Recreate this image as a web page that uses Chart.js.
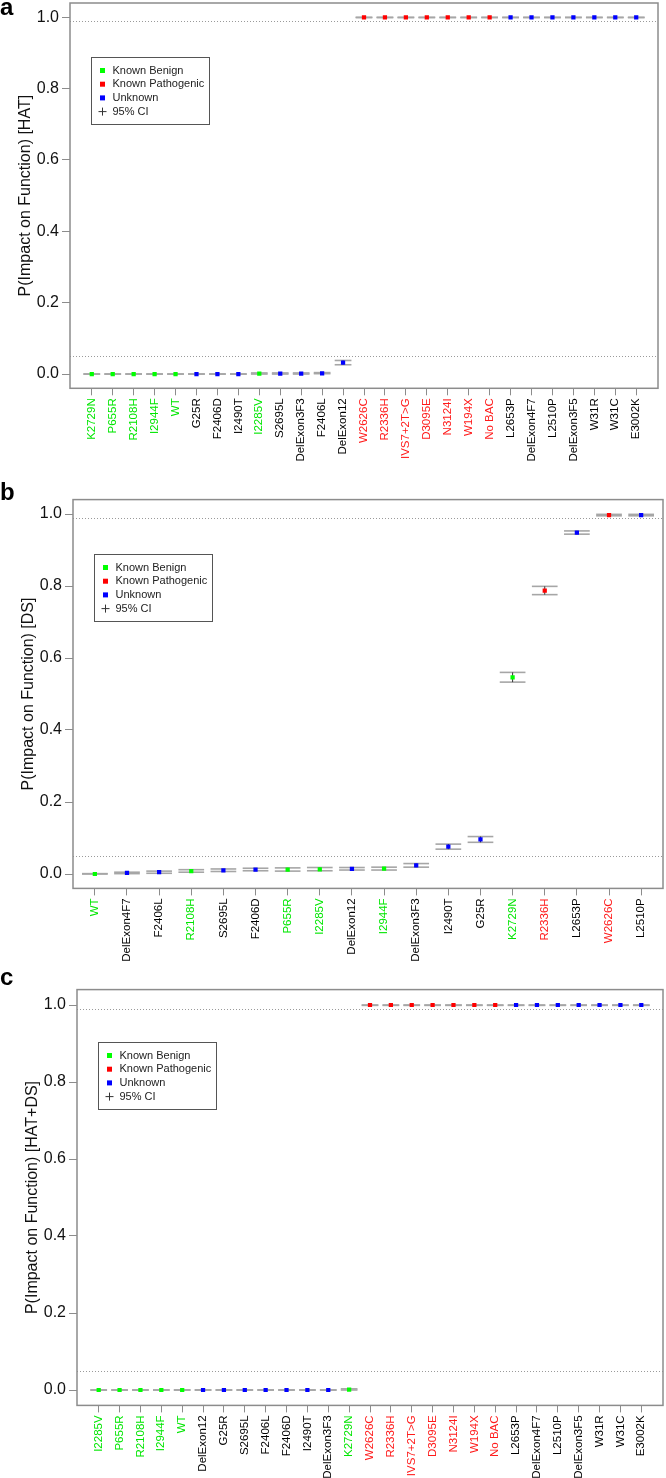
<!DOCTYPE html>
<html>
<head>
<meta charset="utf-8">
<title>P(Impact on Function)</title>
<script src="https://cdn.jsdelivr.net/npm/chart.js@4.4.1/dist/chart.umd.min.js"></script>
<style>
  html, body { margin: 0; padding: 0; background: #fff; }
  #page { position: relative; width: 666px; height: 1478px; overflow: hidden; }
  canvas { position: absolute; left: 0; }
</style>
</head>
<body>
<div id="page">
  <canvas id="chartA" width="666" height="470" style="top:0"></canvas>
  <canvas id="chartB" width="666" height="495" style="top:470px"></canvas>
  <canvas id="chartC" width="666" height="513" style="top:965px"></canvas>
</div>
<script>
// Variant impact panels: HAT, DS and HAT+DS

// Shared axis values
const yTickValues = [0, 0.2, 0.4, 0.6, 0.8, 1.0];
const cutoffLines = [0.99, 0.05];
const legendLabels = ['Known Benign', 'Known Pathogenic', 'Unknown'];
const legendGroups = ['B', 'P', 'U'];

// Panel a: HAT
const aLabels = ['K2729N', 'P655R', 'R2108H', 'I2944F', 'WT', 'G25R', 'F2406D', 'I2490T', 'I2285V', 'S2695L', 'DelExon3F3', 'F2406L', 'DelExon12',
    'W2626C', 'R2336H', 'IVS7+2T>G', 'D3095E', 'N3124I', 'W194X', 'No BAC', 'L2653P', 'DelExon4F7', 'L2510P', 'DelExon3F5', 'W31R', 'W31C', 'E3002K'];
const aGroups = ['B', 'B', 'B', 'B', 'B', 'U', 'U', 'U', 'B', 'U', 'U', 'U', 'U',
    'P', 'P', 'P', 'P', 'P', 'P', 'P', 'U', 'U', 'U', 'U', 'U', 'U', 'U'];
const aValues = [0, 0, 0, 0, 0, 0, 0, 0, 0.001, 0.001, 0.001, 0.002, 0.032,
    1, 1, 1, 1, 1, 1, 1, 1, 1, 1, 1, 1, 1, 1];
const aLow = [0, 0, 0, 0, 0, 0, 0, 0, 0, 0, 0, 0.001, 0.026,
    0.999, 0.999, 0.999, 0.999, 0.999, 0.999, 0.999, 0.999, 0.999, 0.999, 0.999, 0.999, 0.999, 0.999];
const aHigh = [0, 0, 0, 0, 0, 0, 0, 0, 0.003, 0.003, 0.003, 0.004, 0.038,
    1, 1, 1, 1, 1, 1, 1, 1, 1, 1, 1, 1, 1, 1];

// Panel b: DS
const bLabels = ['WT', 'DelExon4F7', 'F2406L', 'R2108H', 'S2695L', 'F2406D', 'P655R', 'I2285V', 'DelExon12',
    'I2944F', 'DelExon3F3', 'I2490T', 'G25R', 'K2729N', 'R2336H', 'L2653P', 'W2626C', 'L2510P'];
const bGroups = ['B', 'U', 'U', 'B', 'U', 'U', 'B', 'B', 'U', 'B', 'U', 'U', 'U', 'B', 'P', 'U', 'P', 'U'];
const bValues = [0.000, 0.003, 0.005, 0.008, 0.010, 0.012, 0.012, 0.013, 0.014, 0.015, 0.024, 0.076, 0.096, 0.546, 0.787, 0.948, 0.997, 0.997];
const bLow = [0.000, 0.001, 0.002, 0.005, 0.007, 0.009, 0.008, 0.009, 0.011, 0.011, 0.019, 0.069, 0.088, 0.533, 0.776, 0.944, 0.995, 0.995];
const bHigh = [0.001, 0.005, 0.008, 0.012, 0.014, 0.016, 0.017, 0.018, 0.018, 0.019, 0.029, 0.083, 0.104, 0.560, 0.799, 0.953, 0.999, 0.999];

// Panel c: HAT+DS
const cLabels = ['I2285V', 'P655R', 'R2108H', 'I2944F', 'WT', 'DelExon12', 'G25R', 'S2695L', 'F2406L', 'F2406D', 'I2490T', 'DelExon3F3', 'K2729N',
    'W2626C', 'R2336H', 'IVS7+2T>G', 'D3095E', 'N3124I', 'W194X', 'No BAC', 'L2653P', 'DelExon4F7', 'L2510P', 'DelExon3F5', 'W31R', 'W31C', 'E3002K'];
const cGroups = ['B', 'B', 'B', 'B', 'B', 'U', 'U', 'U', 'U', 'U', 'U', 'U', 'B',
    'P', 'P', 'P', 'P', 'P', 'P', 'P', 'U', 'U', 'U', 'U', 'U', 'U', 'U'];
const cValues = [0, 0, 0, 0, 0, 0, 0, 0, 0, 0, 0, 0, 0.001,
    1, 1, 1, 1, 1, 1, 1, 1, 1, 1, 1, 1, 1, 1];
const cLow = [0, 0, 0, 0, 0, 0, 0, 0, 0, 0, 0, 0, 0,
    0.999, 0.999, 0.999, 0.999, 0.999, 0.999, 0.999, 0.999, 0.999, 0.999, 0.999, 0.999, 0.999, 0.999];
const cHigh = [0, 0, 0, 0, 0, 0, 0, 0, 0, 0, 0, 0, 0.003,
    1, 1, 1, 1, 1, 1, 1, 1, 1, 1, 1, 1, 1, 1];

// Styles
const fontFamily = '"Liberation Sans", Arial, Helvetica, sans-serif';
const dotColors = { B: '#00ff00', P: '#ff0000', U: '#0000ff' };
const labelColors = { B: '#00e600', P: '#ff1a1a', U: '#000000' };
const frameColor = '#8c8c8c';

// Extra drawing: cutoff lines, CI bars, frame, legend, panel letter
function makeDecor(p) {
    return {
        id: 'decor' + p.letter,
        beforeDatasetsDraw(chart) {
            const { ctx, chartArea: a, scales: { x, y } } = chart;
            ctx.save();
            ctx.strokeStyle = '#9a9a9a';
            ctx.lineWidth = 1;
            ctx.setLineDash([1, 2]);
            cutoffLines.forEach(v => {
                const py = Math.round(y.getPixelForValue(v)) + 0.5;
                ctx.beginPath();
                ctx.moveTo(a.left, py);
                ctx.lineTo(a.right, py);
                ctx.stroke();
            });
            ctx.setLineDash([]);

            p.low.forEach((lo, i) => {
                const px = x.getPixelForValue(i);
                const half = x.getPixelForValue(i + 0.4) - px;
                const yl = y.getPixelForValue(lo);
                const yh = y.getPixelForValue(p.high[i]);
                ctx.strokeStyle = '#a6a6a6';
                ctx.lineWidth = 1.6;
                [yl, yh].forEach(py => {
                    ctx.beginPath();
                    ctx.moveTo(px - half, py);
                    ctx.lineTo(px + half, py);
                    ctx.stroke();
                });
                ctx.strokeStyle = '#333';
                ctx.lineWidth = 1;
                ctx.beginPath();
                ctx.moveTo(px, yl);
                ctx.lineTo(px, yh);
                ctx.stroke();
            });
            ctx.restore();
        },
        afterDraw(chart) {
            const { ctx, chartArea: a } = chart;
            ctx.save();
            // frame
            ctx.strokeStyle = frameColor;
            ctx.lineWidth = 1.5;
            ctx.strokeRect(a.left, a.top, a.right - a.left, a.bottom - a.top);

            // legend
            const lx = Math.round(a.left + 21) + 0.5;
            const ly = Math.round(a.top + p.legendTop) + 0.5;
            ctx.strokeStyle = '#555';
            ctx.lineWidth = 1;
            ctx.strokeRect(lx, ly, 118, 67);
            ctx.font = '11px ' + fontFamily;
            ctx.textBaseline = 'middle';
            legendLabels.forEach((t, k) => {
                const ry = ly + 13 + k * 13.7;
                ctx.fillStyle = dotColors[legendGroups[k]];
                ctx.fillRect(lx + 8.5, ry - 2.5, 5, 5);
                ctx.fillStyle = '#222';
                ctx.fillText(t, lx + 21, ry);
            });
            const cy = ly + 13 + 3 * 13.7;
            ctx.strokeStyle = '#333';
            ctx.beginPath();
            ctx.moveTo(lx + 7, cy);
            ctx.lineTo(lx + 15, cy);
            ctx.moveTo(lx + 11, cy - 4);
            ctx.lineTo(lx + 11, cy + 4);
            ctx.stroke();
            ctx.fillStyle = '#222';
            ctx.fillText('95% CI', lx + 21, cy);

            // panel letter
            ctx.font = 'bold 24px ' + fontFamily;
            ctx.textBaseline = 'alphabetic';
            ctx.fillStyle = '#000';
            ctx.fillText(p.letter, 0, p.letterY);
            ctx.restore();
        }
    };
}

function createPanel(canvasId, p) {
    const canvas = document.getElementById(canvasId);
    if (!canvas) return;
    const n = p.labels.length;
    const ext = 0.04 * (n - 1);

    new Chart(canvas, {
        type: 'scatter',
        data: {
            datasets: [{
                data: p.values.map((v, i) => ({ x: i, y: v })),
                pointStyle: 'rect',
                pointRadius: 3,
                pointHoverRadius: 3,
                backgroundColor: p.groups.map(g => dotColors[g]),
                borderWidth: 0
            }]
        },
        options: {
            responsive: false,
            animation: false,
            layout: { padding: { top: p.top, right: canvas.width - p.right, bottom: 0, left: 0 } },
            plugins: {
                legend: { display: false },
                tooltip: { enabled: false }
            },
            scales: {
                x: {
                    type: 'linear',
                    min: -ext,
                    max: n - 1 + ext,
                    afterBuildTicks: s => { s.ticks = p.labels.map((_, i) => ({ value: i })); },
                    afterFit: s => { s.height = canvas.height - p.bottom; s.paddingLeft = 0; s.paddingRight = 0; },
                    ticks: {
                        autoSkip: false,
                        minRotation: 90,
                        maxRotation: 90,
                        padding: 3,
                        font: { size: 11.5, family: fontFamily },
                        color: c => labelColors[p.groups[c.index]],
                        callback: v => p.labels[v]
                    },
                    grid: { drawOnChartArea: false, tickLength: 7, color: frameColor },
                    border: { display: false }
                },
                y: {
                    type: 'linear',
                    min: -0.04,
                    max: 1.04,
                    afterBuildTicks: s => { s.ticks = yTickValues.map(v => ({ value: v })); },
                    afterFit: s => { s.width = p.left; s.paddingTop = 0; s.paddingBottom = 0; },
                    ticks: {
                        padding: 3,
                        font: { size: 16, family: fontFamily },
                        color: '#111',
                        callback: v => v.toFixed(1)
                    },
                    grid: { drawOnChartArea: false, tickLength: 8, color: frameColor },
                    border: { display: false },
                    title: {
                        display: true,
                        text: p.title,
                        color: '#111',
                        font: { size: 16, family: fontFamily },
                        padding: { top: p.left - 44 - 9.6, bottom: 0 }
                    }
                }
            }
        },
        plugins: [makeDecor(p)]
    });
}

document.addEventListener('DOMContentLoaded', () => {
    createPanel('chartA', {
        letter: 'a', letterY: 15, title: 'P(Impact on Function) [HAT]',
        labels: aLabels, groups: aGroups, values: aValues, low: aLow, high: aHigh,
        top: 1.7, bottom: 388.3, left: 70, right: 658, legendTop: 54
    });
    createPanel('chartB', {
        letter: 'b', letterY: 30, title: 'P(Impact on Function) [DS]',
        labels: bLabels, groups: bGroups, values: bValues, low: bLow, high: bHigh,
        top: 29.6, bottom: 418.4, left: 73, right: 663, legendTop: 54
    });
    createPanel('chartC', {
        letter: 'c', letterY: 20, title: 'P(Impact on Function) [HAT+DS]',
        labels: cLabels, groups: cGroups, values: cValues, low: cLow, high: cHigh,
        top: 24.6, bottom: 440.4, left: 77, right: 664, legendTop: 52
    });
});
</script>
</body>
</html>
